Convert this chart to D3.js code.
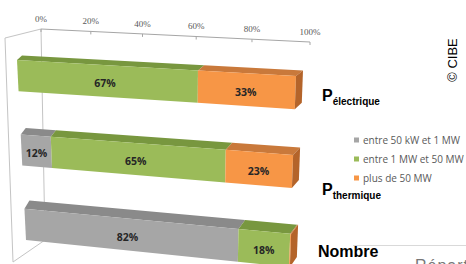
<!DOCTYPE html>
<html>
<head>
<meta charset="utf-8">
<script src="https://cdn.jsdelivr.net/npm/d3@7"></script>
<style>
  html, body { margin: 0; padding: 0; background: #fff; overflow: hidden; }
  svg { display: block; }
</style>
</head>
<body>
<svg width="466" height="264"></svg>
<script>
// rows of the chart (top to bottom)
var rows = ["Pélectrique", "Pthermique", "Nombre"];
var seriesNames = ["entre 50 kW et 1 MW", "entre 1 MW et 50 MW", "plus de 50 MW"];
// share (%) per row
var small = [0, 12, 82];
var medium = [67, 65, 18];
var large = [33, 23, 0.3];
var tickValues = [0, 20, 40, 60, 80, 100];

var front = ["#a6a6a6", "#9bbb59", "#f79646"];
var topc = ["#8a8a8a", "#78973f", "#c9793b"];
var sidec = ["#7a7a7a", "#6a8738", "#b4642a"];

var svg = d3.select("svg");

var x = d3.scaleLinear().domain([0, 100]).range([0, 1]);
var y = d3.scaleBand().domain(rows).range([0, 1]).paddingInner(0.58).paddingOuter(0);

// perspective: right side is closer to the viewer
function warp(u) { return u / (1 + 0.1 * (1 - u)); }

// corners of the front plane of the bars
var P00 = [17, 60], P10 = [296, 76], P01 = [26, 240], P11 = [289, 267];
function proj(u, v) {
  var w = warp(u);
  return [
    (1 - w) * (1 - v) * P00[0] + w * (1 - v) * P10[0] + (1 - w) * v * P01[0] + w * v * P11[0],
    (1 - w) * (1 - v) * P00[1] + w * (1 - v) * P10[1] + (1 - w) * v * P01[1] + w * v * P11[1]
  ];
}
function depth(u, v) {
  var w = warp(u);
  return [5 + 2 * w, -(4.5 + 4.5 * v + w)];
}
function add(p, d) { return [p[0] + d[0], p[1] + d[1]]; }
function poly(pts) { return "M" + pts.map(function(p) { return p[0] + "," + p[1]; }).join("L") + "Z"; }

// frame (walls)
var frame = svg.append("g").attr("fill", "none").attr("stroke", "#c4c4c4").attr("stroke-width", 1);
frame.append("path").attr("d", "M5,38L41,29L45,240L13,262Z");

// top axis
var A0 = [41, 29], A1 = [310, 42];
function axisPt(val) {
  var w = warp(x(val));
  return [A0[0] + w * (A1[0] - A0[0]), A0[1] + w * (A1[1] - A0[1])];
}
var axis = svg.append("g");
axis.append("line")
    .attr("x1", A0[0]).attr("y1", A0[1]).attr("x2", A1[0]).attr("y2", A1[1])
    .attr("stroke", "#a6a6a6");
axis.selectAll(".tick")
    .data(tickValues)
    .enter().append("line")
      .attr("x1", function(d) { return axisPt(d)[0]; })
      .attr("x2", function(d) { return axisPt(d)[0]; })
      .attr("y1", function(d) { return axisPt(d)[1]; })
      .attr("y2", function(d) { return axisPt(d)[1] + 3; })
      .attr("stroke", "#a6a6a6");
axis.selectAll("text")
    .data(tickValues)
    .enter().append("text")
      .attr("x", function(d) { return axisPt(d)[0]; })
      .attr("y", function(d) { return axisPt(d)[1] - 10.5; })
      .attr("dy", "0.35em")
      .attr("text-anchor", "middle")
      .attr("font-family", "Liberation Serif")
      .attr("font-size", 9)
      .attr("fill", "#595959")
      .text(function(d) { return d + "%"; });

// bars
var bars = svg.append("g");
rows.forEach(function(row, i) {
  var vals = [small[i], medium[i], large[i]];
  var v0 = y(row), v1 = y(row) + y.bandwidth();
  var acc = 0, last = 0;
  var segs = vals.map(function(val, k) {
    var s = { k: k, a: acc, b: acc + val, val: val };
    acc += val;
    if (val > 0) last = k;
    return s;
  }).filter(function(s) { return s.val > 0; });

  segs.forEach(function(s) {
    var ua = x(s.a), ub = x(s.b);
    var tl = proj(ua, v0), tr = proj(ub, v0), bl = proj(ua, v1), br = proj(ub, v1);
    bars.append("path")
        .attr("d", poly([tl, tr, add(tr, depth(ub, v0)), add(tl, depth(ua, v0))]))
        .attr("fill", topc[s.k]);
    bars.append("path")
        .attr("d", poly([tl, tr, br, bl]))
        .attr("fill", front[s.k]);
  });

  var uEnd = x(acc);
  var tr = proj(uEnd, v0), br = proj(uEnd, v1);
  bars.append("path")
      .attr("d", poly([tr, add(tr, depth(uEnd, v0)), add(br, depth(uEnd, v1)), br]))
      .attr("fill", sidec[last]);

  segs.filter(function(s) { return s.val >= 1; }).forEach(function(s) {
    var c = proj(x((s.a + s.b) / 2), (v0 + v1) / 2);
    bars.append("text")
        .attr("x", c[0])
        .attr("y", c[1] + 2.5)
        .attr("dy", "0.35em")
        .attr("text-anchor", "middle")
        .attr("font-family", "Open Sans")
        .attr("font-weight", "bold")
        .attr("font-size", 10.5)
        .attr("fill", "#262626")
        .text(Math.round(s.val) + "%");
  });
});

// legend
var legend = svg.append("g")
  .selectAll("g")
  .data(seriesNames)
  .enter().append("g")
    .attr("transform", function(d, i) { return "translate(354," + (140 + i * 19) + ")"; });
legend.append("rect")
    .attr("x", 0).attr("y", -2.5).attr("width", 5).attr("height", 5)
    .attr("fill", function(d, i) { return front[i]; });
legend.append("text")
    .attr("x", 9).attr("dy", "0.35em")
    .attr("font-family", "Open Sans")
    .attr("font-size", 10)
    .attr("fill", "#595959")
    .text(function(d) { return d; });

// row names on the right
function rowLabel(main, sub, lx, ly) {
  var t = svg.append("text")
      .attr("x", lx).attr("y", ly)
      .attr("font-family", "Liberation Sans, Arial")
      .attr("font-weight", "bold")
      .attr("fill", "#000");
  t.append("tspan").attr("font-size", 16).text(main);
  if (sub) t.append("tspan").attr("font-size", 10).attr("dy", 4).text(sub);
}
rowLabel("P", "électrique", 322, 101);
rowLabel("P", "thermique", 322, 195);
rowLabel("Nombre", null, 318, 257);

// copyright
svg.append("text")
    .attr("transform", "translate(457,60) rotate(-90)")
    .attr("text-anchor", "middle")
    .attr("font-family", "Liberation Sans, Arial")
    .attr("font-size", 13)
    .attr("fill", "#000")
    .text("© CIBE");

// next figure peeking in at the bottom right
svg.append("line")
    .attr("x1", 353).attr("y1", 245.5).attr("x2", 466).attr("y2", 245.5)
    .attr("stroke", "#d9d9d9");
svg.append("text")
    .attr("x", 415).attr("y", 271)
    .attr("font-family", "Liberation Sans, Arial")
    .attr("font-size", 16)
    .attr("letter-spacing", 1)
    .attr("fill", "#777")
    .text("Répartition");
</script>
</body>
</html>
